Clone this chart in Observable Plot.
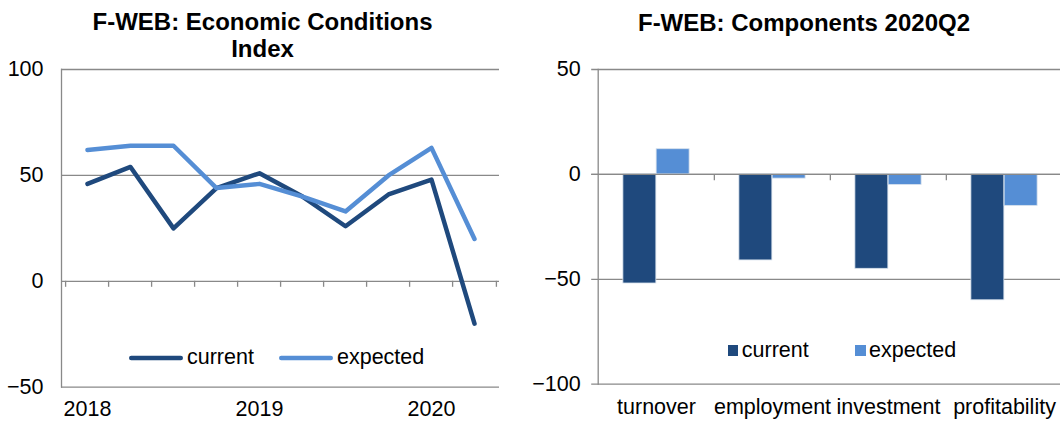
<!DOCTYPE html>
<html>
<head>
<meta charset="utf-8">
<script src="https://cdn.jsdelivr.net/npm/d3@7"></script>
<script src="https://cdn.jsdelivr.net/npm/@observablehq/plot@0.6"></script>
<style>
  html, body { margin: 0; padding: 0; background: #fff; }
  #root { position: relative; width: 1060px; height: 421px; overflow: hidden; font-family: "Liberation Sans", Arial, sans-serif; color: #000; }
  .title { position: absolute; font-weight: bold; font-size: 24px; line-height: 27px; text-align: center; }
  .panel { position: absolute; top: 50px; }
  .lg { position: absolute; font-size: 21.5px; line-height: 21.5px; white-space: nowrap; }
</style>
</head>
<body>
<div id="root">
  <div class="title" style="left:0px; top:8px; width:525px;">F-WEB: Economic Conditions<br>Index</div>
  <div class="title" style="left:530px; top:9px; width:548px;">F-WEB: Components 2020Q2</div>
  <div class="panel" id="left" style="left:0px;"></div>
  <div class="panel" id="right" style="left:530px;"></div>
</div>
<script>
// ---------- data ----------
const quarters = ["2018Q1","2018Q2","2018Q3","2018Q4","2019Q1","2019Q2","2019Q3","2019Q4","2020Q1","2020Q2"];
const currentIndex  = [46, 54, 25, 44, 51, 40, 26, 41, 48, -20];
const expectedIndex = [62, 64, 64, 44, 46, 40, 33, 50, 63, 20];
const leftYTicks = [-50, 0, 50, 100];

const components = ["turnover", "employment", "investment", "profitability"];
const currentComp  = [-52, -41, -45, -60];
const expectedComp = [12, -2, -5, -15];
const rightYTicks = [-100, -50, 0, 50];

const seriesNames = ["current", "expected"];
const colors = ["#1F497D", "#558ED5"];
const gridColor = "#898989";
const font = '"Liberation Sans", Arial, sans-serif';

// ---------- left: line chart ----------
const rowsL = quarters.map((q, i) => ({q, current: currentIndex[i], expected: expectedIndex[i]}));
const L = {width: 530, height: 371, mt: 19, mb: 34.3, ml: 61, mr: 31};
const stepL = (L.width - L.ml - L.mr) / quarters.length;
const tickLenL = 6 * 150 / (L.height - L.mt - L.mb);

const left = Plot.plot({
  width: L.width, height: L.height,
  marginTop: L.mt, marginBottom: L.mb, marginLeft: L.ml, marginRight: L.mr,
  style: {fontFamily: font, fontSize: "21.5px", color: "#000", background: "transparent"},
  x: {type: "point", domain: quarters, padding: 0.5},
  y: {domain: [-50, 100]},
  marks: [
    Plot.ruleY(leftYTicks, {stroke: gridColor, strokeWidth: 1.3}),
    Plot.frame({anchor: "left", stroke: gridColor, strokeWidth: 1.3}),
    Plot.ruleX(quarters, {x: d => d, dx: -stepL / 2, y1: 0, y2: -tickLenL, stroke: gridColor, strokeWidth: 1.3}),
    Plot.ruleX(quarters.slice(-1), {x: d => d, dx: stepL / 2, y1: 0, y2: -tickLenL, stroke: gridColor, strokeWidth: 1.3}),
    Plot.line(rowsL, {x: "q", y: "current", stroke: colors[0], strokeWidth: 4.5, strokeLinecap: "round", strokeLinejoin: "round"}),
    Plot.line(rowsL, {x: "q", y: "expected", stroke: colors[1], strokeWidth: 4.5, strokeLinecap: "round", strokeLinejoin: "round"}),
    Plot.axisY({ticks: leftYTicks, tickSize: 0, tickPadding: 18, label: null}),
    Plot.axisX({ticks: quarters.filter(q => q.endsWith("Q1")), tickFormat: q => q.slice(0, 4), tickSize: 0, tickPadding: 13.5, label: null})
  ]
});
document.getElementById("left").appendChild(left);

// ---------- right: grouped bars ----------
const rowsR = components.map((c, i) => ({c, current: currentComp[i], expected: expectedComp[i]}));
const R = {width: 530, height: 371, mt: 19, mb: 37.3, ml: 67.7, step: 116.3, bar: 33.25};
const tickLenR = 6.3 * 150 / (R.height - R.mt - R.mb);
const outer = R.step / 2 - R.bar;

const right = Plot.plot({
  width: R.width, height: R.height,
  marginTop: R.mt, marginBottom: R.mb, marginLeft: R.ml, marginRight: 0,
  style: {fontFamily: font, fontSize: "21.5px", color: "#000", background: "transparent"},
  x: {type: "band", domain: components, range: [R.ml, R.ml + R.step * components.length], padding: 0},
  y: {domain: [-100, 50]},
  marks: [
    Plot.ruleY(rightYTicks, {stroke: gridColor, strokeWidth: 1.3, insetLeft: -6.5}),
    Plot.barY(rowsR, {x: "c", y: "current", fill: colors[0], stroke: "#d6e0ec", strokeWidth: 0.8, insetLeft: outer, insetRight: R.step / 2}),
    Plot.barY(rowsR, {x: "c", y: "expected", fill: colors[1], stroke: "#d6e0ec", strokeWidth: 0.8, insetLeft: R.step / 2, insetRight: outer}),
    Plot.ruleY([0], {stroke: gridColor, strokeWidth: 1.3, insetLeft: -6.5}),
    Plot.frame({anchor: "left", stroke: gridColor, strokeWidth: 1.3}),
    Plot.ruleX(components.slice(1), {x: d => d, dx: -R.step / 2, y1: 0, y2: -tickLenR, stroke: gridColor, strokeWidth: 1.3}),
    Plot.axisY({ticks: rightYTicks, tickSize: 0, tickPadding: 17.5, label: null}),
    Plot.axisX({tickSize: 0, tickPadding: 15, label: null})
  ]
});
document.getElementById("right").appendChild(right);

// ---------- legends (HTML overlays) ----------
const root = document.getElementById("root");
function addLineSwatch(x, cy, w, color) {
  const ns = "http://www.w3.org/2000/svg";
  const s = document.createElementNS(ns, "svg");
  s.setAttribute("width", w + 6); s.setAttribute("height", 10);
  s.style.position = "absolute"; s.style.left = (x - 3) + "px"; s.style.top = (cy - 5) + "px";
  const l = document.createElementNS(ns, "line");
  l.setAttribute("x1", 3 + 2.25); l.setAttribute("x2", 3 + w - 2.25);
  l.setAttribute("y1", 5); l.setAttribute("y2", 5);
  l.setAttribute("stroke", color); l.setAttribute("stroke-width", 4.5); l.setAttribute("stroke-linecap", "round");
  s.appendChild(l); root.appendChild(s);
}
function addSquare(x, y, size, color) {
  const d = document.createElement("div");
  Object.assign(d.style, {position: "absolute", left: x + "px", top: y + "px", width: size + "px", height: size + "px", background: color});
  root.appendChild(d);
}
function addLabel(x, baseline, text) {
  const d = document.createElement("div");
  d.className = "lg"; d.textContent = text;
  d.style.left = x + "px"; d.style.top = (baseline - 18.2) + "px";
  root.appendChild(d);
}
// left legend
addLineSwatch(129, 357.7, 54, colors[0]); addLabel(187, 365, seriesNames[0]);
addLineSwatch(279, 357.7, 54, colors[1]); addLabel(337, 365, seriesNames[1]);
// right legend
addSquare(727.7, 345, 10.5, colors[0]); addLabel(741.8, 358.3, seriesNames[0]);
addSquare(855, 345, 10.5, colors[1]); addLabel(869, 358.3, seriesNames[1]);
</script>
</body>
</html>
